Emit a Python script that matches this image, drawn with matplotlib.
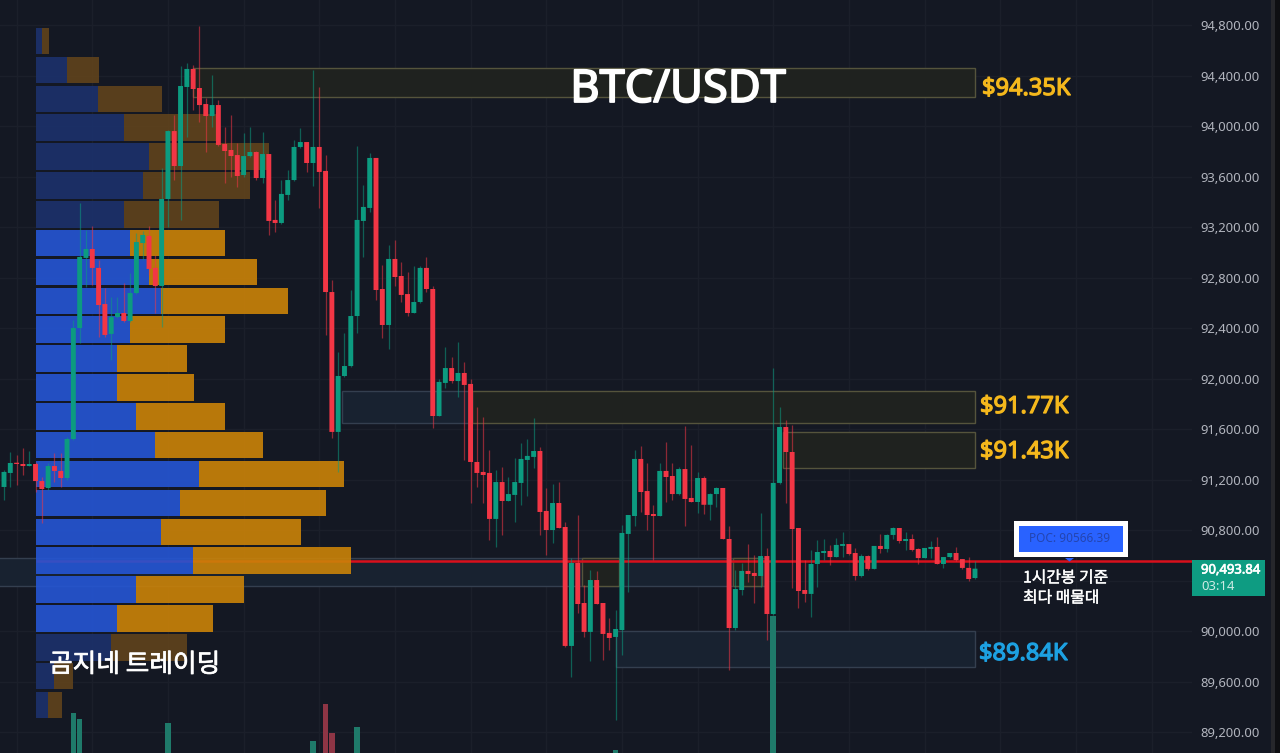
import matplotlib
matplotlib.use("Agg")
import matplotlib.pyplot as plt
import matplotlib.patheffects as pe
from matplotlib.patches import Rectangle, Polygon

opens = [91141,91252,91331,91323,91307,91323,91188,91133,91307,91268,91212,91521,92400,92955,93026,92876,92590,92353,92487,92519,
 92456,92677,93073,93129,92876,92733,93422,93960,93683,94309,94452,94301,94174,94079,94166,93858,93810,93770,93612,93762,
 93794,93588,93778,93256,93232,93454,93572,93834,93873,93707,93834,93644,92685,91577,92020,92099,92495,93248,93351,93747,
 92709,92424,92947,92812,92669,92519,92606,92876,92709,91703,91965,92083,91980,92044,91957,91339,91260,91252,90888,91180,
 91030,91078,91173,91355,91379,91426,90951,90800,91014,90824,89882,90539,90222,89993,90404,90222,89985,89953,90008,90769,
 90911,91363,91109,90927,90911,91268,91228,91085,91283,91054,91022,91212,91000,91085,91133,90729,90024,90325,90476,90460,
 90436,90594,90135,91173,91616,91418,90816,90325,90294,90531,90618,90634,90586,90674,90689,90618,90436,90594,90492,90674,
 90650,90761,90816,90713,90729,90650,90578,90650,90666,90531,90586,90618,90570,90500,90420]
highs = [91276,91418,91394,91450,91426,91339,91220,91331,91410,91410,91537,92464,93390,93176,93208,92939,92717,92646,92646,92757,
 92836,93153,93169,93208,92978,93668,93968,94087,94475,94499,94483,94792,94222,94404,94206,93992,94087,93866,93945,93992,
 93802,93953,93778,93414,93572,93652,93889,93984,93873,94444,94309,93770,92780,92210,92361,92701,93842,93533,93786,93747,
 92899,93058,93097,92923,92844,92891,92891,92963,92733,91996,92250,92171,92289,92131,91996,91775,91695,91434,91276,91299,
 91220,91371,91489,91521,91687,91458,91133,91165,91180,90864,90578,90919,90365,90484,90476,90222,90103,90167,90840,90919,
 91434,91466,91331,91000,91331,91497,91331,91299,91624,91474,91260,91228,91093,91141,91133,90832,90484,90539,90689,90602,
 90935,90658,92083,91775,91672,91632,90816,90562,90642,90721,90729,90682,90737,90785,90689,90658,90610,90602,90674,90769,
 90769,90824,90816,90785,90769,90658,90658,90713,90745,90586,90618,90666,90570,90586,90555]
lows = [91038,91141,91157,91236,91307,91101,90856,91117,91180,91141,91196,91513,92281,92725,92741,92329,92329,92147,92479,92448,
 92448,92669,92939,92820,92519,92408,93200,93572,93256,93913,94127,94032,93794,93992,93842,93549,93596,93517,93596,93755,
 93572,93549,93137,93161,93224,93414,93565,93826,93636,93525,93351,92345,91529,91260,92012,92091,92361,92963,93319,92622,
 92321,92234,92733,92606,92495,92519,92598,92685,91608,91703,91925,91965,91854,91355,91014,91141,91014,90721,90666,90761,
 91030,90864,91000,91070,91291,90761,90602,90697,90816,89874,89636,90143,89953,89763,90214,89771,89850,89296,89810,90309,
 90832,90943,90800,90562,90911,91022,91038,91078,90832,91022,90935,90927,90880,90982,90729,89692,90008,90286,90388,90222,
 90349,89929,90127,91165,91014,90341,90183,90230,90111,90349,90562,90523,90586,90586,90602,90404,90428,90484,90492,90618,
 90626,90729,90697,90642,90634,90531,90578,90578,90531,90500,90578,90555,90492,90396,90412]
closes = [91260,91331,91323,91307,91323,91188,91125,91307,91268,91212,91521,92400,92963,93026,92876,92582,92345,92487,92519,92456,
 92677,93081,93137,92868,92733,93422,93960,93683,94317,94452,94293,94166,94079,94166,93850,93802,93762,93604,93762,93794,
 93588,93778,93248,93232,93462,93572,93834,93873,93707,93834,93636,92685,91577,92020,92099,92495,93256,93359,93747,92701,
 92424,92947,92804,92662,92519,92606,92876,92709,91703,91973,92083,91980,92044,91949,91339,91252,91236,90888,91180,91030,
 91085,91180,91363,91387,91426,90943,90800,91014,90816,89882,90539,90214,89993,90404,90214,89977,89945,90016,90777,90919,
 91363,91101,90919,90911,91268,91220,91085,91283,91046,91022,91212,91000,91085,91133,90729,90024,90333,90476,90452,90436,
 90594,90135,91173,91616,91418,90808,90317,90294,90531,90626,90634,90586,90682,90689,90610,90436,90594,90492,90674,90650,
 90761,90816,90713,90729,90642,90578,90658,90666,90531,90586,90618,90562,90500,90412,90494]

vol_index = [11,12,26,49,51,52,56,97,122]
vol_value = [40,34,30,12,49,20,26,3,137]

profile_buy = [6.5,31.5,62.5,88.5,113.5,107.5,88.5,94.5,113.5,125.5,94.5,81.5,81.5,100.5,119.5,163.5,144.5,125.5,157.5,100.5,81.5,75.5,18.5,12.5]
profile_sell = [7,32,64,93,120,107,95,95,108,127,95,70,77,89,108,145,146,140,158,108,96,76,19,14]
profile_faded = [True]*7 + [False]*14 + [True]*3
profile_top_price = 94673
profile_step = 228.65

price_ticks = [89200,89600,90000,90400,90800,91200,91600,92000,92400,92800,93200,93600,94000,94400,94800]

zones = [
 (30, 154, 94230, 94459, 'y'),
 (74.2, 154, 91648, 91901, 'y'),
 (123.5, 154, 91291, 91577, 'y'),
 (53.6, 74.2, 91648, 91901, 'b'),
 (-1, 121, 90357, 90578, 'b'),
 (91.7, 97.5, 90357, 90578, 'y'),
 (115.6, 120.2, 90357, 90578, 'y'),
 (97, 154, 89715, 90000, 'b'),
]
poc_price = 90555
last_price = "90,493.84"
countdown = "03:14"

BG = '#141823'
GRID = '#1B1F2A'
RED = '#F23645'
GREEN = '#0C9B80'

W, H = 1280, 753
fig = plt.figure(figsize=(W/100, H/100), dpi=100, facecolor=BG)
rect = [0, 0, 1192/W, 1]
ax = fig.add_axes(rect, facecolor=BG, zorder=1)
xlim = (-0.634, 188.42)
ylim = (89034, 94998)
ax.set_xlim(xlim); ax.set_ylim(ylim)

ax.set_xticks(range(2, 189, 12))
ax.tick_params(axis='x', length=0, labelbottom=False)
ax.grid(True, color=GRID, lw=1)
ax.set_axisbelow(True)
for s in ax.spines.values():
    s.set_visible(False)

styles = {'y': ('#1F221F', '#55543C'), 'b': ('#182230', '#343F4F')}
for x0, x1, p0, p1, st in zones:
    fc, ec = styles[st]
    ax.add_patch(Rectangle((x0, p0), x1-x0, p1-p0, fc=fc, ec=ec, lw=1, zorder=2))
ax.plot([5.0, xlim[1]], [poc_price, poc_price], color='#D8101C', lw=1.8, zorder=3, solid_capstyle='butt')

# volume histogram
axv = ax.twinx()
axv.set_zorder(2); axv.patch.set_visible(False)
axv.set_xlim(xlim); axv.set_ylim(0, 753); axv.axis('off')
for i, v in zip(vol_index, vol_value):
    c = '#1F7A6A' if closes[i] >= opens[i] else '#8E3545'
    axv.bar(i, v, width=0.9, color=c, lw=0)

# volume profile
axp = ax.twiny()
axp.set_zorder(3); axp.patch.set_visible(False)
axp.set_xlim(-35.5, 1156.5); axp.set_ylim(ylim); axp.axis('off')
for k in range(len(profile_buy)):
    c = profile_top_price - k*profile_step
    cb, cs = ('#1C316C', '#60431C') if profile_faded[k] else ('#2556D5', '#CB8308')
    axp.barh(c, profile_buy[k], height=210, left=0, color=cb, alpha=0.9, lw=0)
    axp.barh(c, profile_sell[k], height=210, left=profile_buy[k], color=cs, alpha=0.9, lw=0)

# candles
axc = ax.twiny()
axc.set_zorder(4); axc.patch.set_visible(False)
axc.set_xlim(xlim); axc.set_ylim(ylim); axc.axis('off')
for i, (o, h, l, c) in enumerate(zip(opens, highs, lows, closes)):
    col = GREEN if c >= o else RED
    axc.vlines(i, l, h, color=col, lw=0.9, alpha=0.55, zorder=2)
    bars = axc.bar(i, max(abs(c-o), 10), bottom=min(o, c), width=0.78, color=col, lw=0, zorder=3)
    bars[0].set_snap(False)

# price scale (after the twins, which move the host's ticks to the left)
ax.set_yticks(price_ticks)
ax.set_yticklabels(['' if p == 90400 else f'{p:,.2f}' for p in price_ticks],
                   family='Noto Sans', fontsize=9.4, color='#B2B5BE')
ax.yaxis.tick_right()
ax.tick_params(axis='y', length=0, pad=6, labelleft=False, labelright=True, left=False, right=False)

def P(x, y):
    return x/W, 1 - y/H

def rectpx(x0, y0, x1, y1, color):
    fig.add_artist(Rectangle(P(x0, y1), (x1-x0)/W, (y1-y0)/H, transform=fig.transFigure,
                             fc=color, ec='none', zorder=10))

def bold(w, color):
    return [pe.withStroke(linewidth=w, foreground=color)]

KR = ['Noto Sans CJK KR', 'DejaVu Sans']
fig.text(*P(678, 90), 'BTC/USDT', color='white', fontsize=32.5, family='Noto Sans',
         ha='center', va='center', zorder=12, path_effects=bold(1.3, 'white'))
for x, y, t, c in [(982, 89, '$94.35K', '#F5B81C'), (980, 407, '$91.77K', '#F5B81C'),
                   (980, 452, '$91.43K', '#F5B81C'), (979, 654, '$89.84K', '#1DA1E2')]:
    fig.text(*P(x, y), t, color=c, fontsize=17, family='Noto Sans',
             ha='left', va='center', zorder=12, path_effects=bold(0.9, c))
fig.text(*P(49, 665), '곰지네 트레이딩', color='white', fontsize=18.5, family=KR,
         ha='left', va='center', zorder=12, path_effects=bold(0.5, 'white'))
fig.text(*P(1023, 578), '1시간봉 기준', color='white', fontsize=11.4, family=KR,
         ha='left', va='center', zorder=12, path_effects=bold(0.3, 'white'))
fig.text(*P(1023, 598), '최다 매물대', color='white', fontsize=11.4, family=KR,
         ha='left', va='center', zorder=12, path_effects=bold(0.3, 'white'))

rectpx(1014, 521, 1128, 557, 'white')
rectpx(1019, 526, 1123, 552, '#2962FF')
fig.text(*P(1069.5, 538), 'POC: 90566.39', color='#2445B0', fontsize=8.5, family='Noto Sans',
         ha='center', va='center', zorder=12)
fig.add_artist(Polygon([P(1065, 558), P(1074, 558), P(1069.5, 561.5)], closed=True,
                       transform=fig.transFigure, fc='#2962FF', ec='none', zorder=11))

rectpx(1192, 560, 1265, 596, '#0E9C82')
fig.text(*P(1201, 570), last_price, color='white', fontsize=9.4, family='Noto Sans',
         ha='left', va='center', zorder=12, path_effects=bold(0.5, 'white'))
fig.text(*P(1201, 586), countdown, color='#CDEBE4', fontsize=9.4, family='Noto Sans',
         ha='left', va='center', zorder=12)

rectpx(1271, 0, 1275, 753, '#26272B')
rectpx(1275, 0, 1280, 753, '#0E0F12')

fig.savefig('out.png', dpi=100, facecolor=BG)
